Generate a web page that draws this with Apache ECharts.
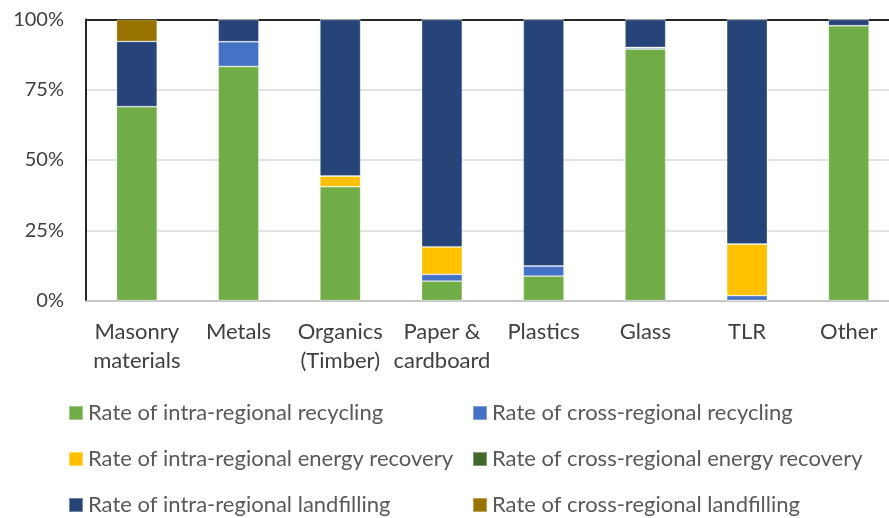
<!DOCTYPE html>
<html>
<head>
<meta charset="utf-8">
<script src="https://cdn.jsdelivr.net/npm/echarts@6/dist/echarts.min.js"></script>
<style>
  html, body { margin: 0; padding: 0; background: #fff; overflow: hidden; }
  /* the plot area runs a little past the right edge of the window */
  #chart { width: 900px; height: 518px; }
</style>
</head>
<body>
<div id="chart"></div>
<script>
// Waste treatment shares by material (percent)
const categories = ['Masonry\nmaterials', 'Metals', 'Organics\n(Timber)', 'Paper &\ncardboard', 'Plastics', 'Glass', 'TLR', 'Other'];
const intraRecycling   = [69.0, 83.3, 40.5, 6.9, 8.7, 89.5, 0.0, 97.8];
const crossRecycling   = [0.0, 8.8, 0.0, 2.4, 3.6, 0.6, 1.7, 0.0];
const intraEnergy      = [0.0, 0.0, 3.8, 9.8, 0.0, 0.0, 18.4, 0.0];
const crossEnergy      = [0.0, 0.0, 0.0, 0.0, 0.0, 0.0, 0.0, 0.0];
const intraLandfill    = [23.2, 7.9, 55.7, 80.9, 87.7, 9.9, 79.9, 2.2];
const crossLandfill    = [7.8, 0.0, 0.0, 0.0, 0.0, 0.0, 0.0, 0.0];
const yTicks = [0, 25, 50, 75, 100];

const seriesDefs = [
  { name: 'Rate of intra-regional recycling', data: intraRecycling, color: '#70AD47' },
  { name: 'Rate of cross-regional recycling', data: crossRecycling, color: '#4472C4' },
  { name: 'Rate of intra-regional energy recovery', data: intraEnergy, color: '#FFC000' },
  { name: 'Rate of cross-regional energy recovery', data: crossEnergy, color: '#43682B' },
  { name: 'Rate of intra-regional landfilling', data: intraLandfill, color: '#264478' },
  { name: 'Rate of cross-regional landfilling', data: crossLandfill, color: '#997300' }
];

const font = 'Lato, "Open Sans", sans-serif';

// legend placement: two columns, three rows
const legendPos = [
  { left: 68, top: 402 }, { left: 472, top: 402 },
  { left: 68, top: 448 }, { left: 472, top: 448 },
  { left: 68, top: 494 }, { left: 472, top: 494 }
];

const chart = echarts.init(document.getElementById('chart'));
chart.setOption({
  animation: false,
  grid: { left: 86, right: 0.4, top: 19.5, bottom: 217.5 },
  legend: seriesDefs.map((s, i) => ({
    data: [s.name],
    left: legendPos[i].left,
    top: legendPos[i].top,
    padding: 0,
    itemWidth: 14,
    itemHeight: 14,
    icon: 'rect',
    selectedMode: false,
    textStyle: { fontFamily: font, fontSize: 22, color: '#595959', padding: [0, 0, 0, 0] }
  })),
  xAxis: [
    {
      type: 'category',
      data: categories,
      axisLine: { lineStyle: { color: '#BFBFBF', width: 1.5 } },
      axisTick: { show: false },
      axisLabel: { fontFamily: font, fontSize: 22, color: '#404040', lineHeight: 29, margin: 17, interval: 0 }
    },
    {
      type: 'category',
      position: 'top',
      data: categories,
      axisLine: { lineStyle: { color: '#262626', width: 2 } },
      axisTick: { show: false },
      axisLabel: { show: false }
    }
  ],
  yAxis: {
    type: 'value',
    min: yTicks[0],
    max: yTicks[yTicks.length - 1],
    interval: 25,
    axisLine: { show: true, lineStyle: { color: '#262626', width: 2 } },
    axisTick: { show: false },
    splitLine: { lineStyle: { color: '#D9D9D9', width: 1.5 } },
    axisLabel: { fontFamily: font, fontSize: 20, color: '#404040', margin: 22, formatter: v => v + '%' }
  },
  series: seriesDefs.map(s => ({
    name: s.name,
    type: 'bar',
    stack: 'total',
    data: s.data,
    barWidth: '40%',
    itemStyle: { color: s.color, borderColor: 'rgba(255,255,255,0.35)', borderWidth: 0.8 }
  }))
});
</script>
</body>
</html>
